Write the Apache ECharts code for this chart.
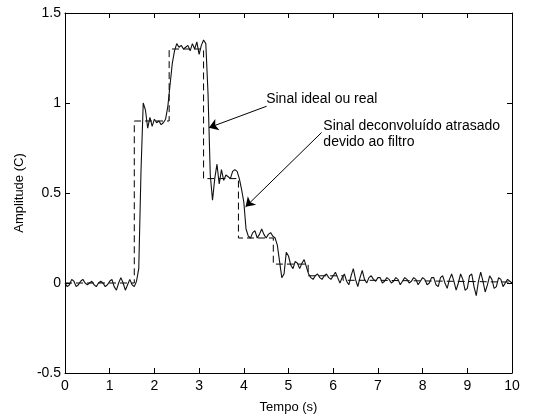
<!DOCTYPE html>
<html>
<head>
<meta charset="utf-8">
<script src="https://cdn.jsdelivr.net/npm/echarts@6/dist/echarts.min.js"></script>
<style>
  html, body { margin: 0; padding: 0; background: #fff; }
  #chart { width: 538px; height: 419px; }
</style>
</head>
<body>
<div id="chart"></div>
<script>
// deconvolved (filtered) signal, one sample every 0.05 s from 0 to 10 s
const sampleStep = 0.05;
const deconvolved = [
  0.00, -0.02, -0.01, 0.02, 0.01, -0.02, -0.01, 0.01, 0.02, 0.00, -0.01, 0.00, 0.01, -0.01, -0.02, 0.00, 0.01, 0.00, -0.02, -0.01,
  0.01, 0.02, -0.02, -0.04, 0.00, 0.03, 0.00, -0.04, -0.01, 0.02, -0.01, -0.02, 0.01, 0.08, 0.62, 1.00, 0.96, 0.86, 0.92, 0.87,
  0.91, 0.89, 0.90, 0.88, 0.89, 0.91, 0.98, 1.10, 1.22, 1.29, 1.33, 1.31, 1.32, 1.30, 1.31, 1.32, 1.29, 1.33, 1.30, 1.34,
  1.27, 1.32, 1.35, 1.33, 1.05, 0.60, 0.46, 0.58, 0.66, 0.55, 0.63, 0.57, 0.60, 0.59, 0.58, 0.62, 0.63, 0.62, 0.58, 0.52,
  0.45, 0.30, 0.26, 0.25, 0.28, 0.29, 0.25, 0.27, 0.30, 0.27, 0.25, 0.27, 0.28, 0.26, 0.25, 0.21, 0.12, 0.03, 0.05, 0.17,
  0.15, 0.10, 0.08, 0.12, 0.11, 0.08, 0.11, 0.13, 0.09, 0.05, 0.03, 0.02, 0.04, 0.05, 0.03, 0.02, 0.04, 0.05, 0.03, 0.02,
  0.04, 0.06, 0.03, 0.00, 0.03, 0.05, 0.01, -0.01, 0.04, 0.08, 0.02, -0.02, 0.03, 0.07, 0.02, 0.00, 0.03, 0.04, 0.02, 0.01,
  0.03, 0.03, 0.00, 0.01, 0.03, 0.02, 0.00, 0.01, 0.03, 0.02, -0.01, 0.01, 0.03, 0.02, 0.00, 0.01, 0.03, 0.02, -0.01, 0.01,
  0.03, 0.02, -0.01, 0.00, 0.03, 0.03, -0.01, -0.02, 0.03, 0.04, 0.00, -0.03, 0.02, 0.05, 0.01, -0.04, 0.00, 0.05, 0.02, -0.04,
  -0.03, 0.04, 0.05, -0.02, -0.07, 0.01, 0.06, 0.01, -0.05, -0.01, 0.04, 0.02, -0.03, -0.02, 0.03, 0.02, -0.02, 0.00, 0.02, 0.01,
  0.00
];

// ideal (real) signal: level held from each start time to the next one
const idealStarts = [0, 1.55, 2.33, 3.10, 3.88, 4.66, 5.44, 6.22, 7.00, 10];
const idealLevels = [0, 0.90, 1.30, 0.58, 0.25, 0.105, 0.04, 0.015, 0.005, 0.005];

const xTicks = [0, 1, 2, 3, 4, 5, 6, 7, 8, 9, 10];
const yTicks = [-0.5, 0, 0.5, 1, 1.5];

// annotations, in data coordinates: text start, arrow tail, arrow head
const noteIdeal = { text: 'Sinal ideal ou real', at: [4.50, 1.019], from: [4.51, 0.982], to: [3.22, 0.863] };
const noteFiltered = { text: 'Sinal deconvoluído atrasado\ndevido ao filtro', at: [5.78, 0.825], from: [5.74, 0.836], to: [4.04, 0.423] };

const font = "'Liberation Sans', Arial, sans-serif";

const filteredData = deconvolved.map((v, i) => [+(i * sampleStep).toFixed(2), v]);
const idealData = idealStarts.map((t, i) => [t, idealLevels[i]]);

function boxAxis(pos, min, max, ticks, showLabels) {
  return {
    type: 'value',
    position: pos,
    min: min,
    max: max,
    axisLine: { show: true, onZero: false, lineStyle: { color: '#000', width: 1 } },
    axisTick: { show: true, inside: true, length: 5, customValues: ticks, lineStyle: { color: '#000' } },
    axisLabel: {
      show: showLabels,
      customValues: ticks,
      color: '#000',
      fontFamily: font,
      fontSize: 14,
      margin: pos === 'bottom' ? 6 : 4,
      showMinLabel: true,
      showMaxLabel: true
    },
    splitLine: { show: false }
  };
}

const chart = echarts.init(document.getElementById('chart'));

const xBottom = boxAxis('bottom', 0, 10, xTicks, true);
xBottom.name = 'Tempo (s)';
xBottom.nameLocation = 'middle';
xBottom.nameGap = 28;
xBottom.nameTextStyle = { color: '#000', fontFamily: font, fontSize: 13 };

const yLeft = boxAxis('left', -0.5, 1.5, yTicks, true);
yLeft.name = 'Amplitude (C)';
yLeft.nameLocation = 'middle';
yLeft.nameGap = 33;
yLeft.nameTextStyle = { color: '#000', fontFamily: font, fontSize: 13 };

function arrowLine(note) {
  return [{ coord: note.from }, { coord: note.to }];
}

function notePoint(note) {
  return {
    coord: note.at,
    label: {
      show: true,
      position: 'right',
      distance: 0,
      formatter: note.text,
      color: '#000',
      fontFamily: font,
      fontSize: 14,
      lineHeight: 16,
      align: 'left'
    }
  };
}

chart.setOption({
  animation: false,
  backgroundColor: '#fff',
  grid: { left: 65, right: 26, top: 13, bottom: 43 },
  xAxis: [xBottom, boxAxis('top', 0, 10, xTicks, false)],
  yAxis: [yLeft, boxAxis('right', -0.5, 1.5, yTicks, false)],
  series: [
    {
      type: 'line',
      name: 'ideal',
      data: idealData,
      step: 'end',
      showSymbol: false,
      symbol: 'none',
      lineStyle: { color: '#000', width: 1, type: [7, 4] },
      z: 2
    },
    {
      type: 'line',
      name: 'deconvolved',
      data: filteredData,
      showSymbol: false,
      symbol: 'none',
      lineStyle: { color: '#111', width: 1.1 },
      z: 3,
      markLine: {
        silent: true,
        symbol: ['none', 'arrow'],
        symbolSize: 9,
        label: { show: false },
        lineStyle: { color: '#000', width: 1, type: 'solid' },
        emphasis: { disabled: true },
        data: [arrowLine(noteIdeal), arrowLine(noteFiltered)]
      },
      markPoint: {
        silent: true,
        symbol: 'circle',
        symbolSize: 0,
        data: [notePoint(noteIdeal), notePoint(noteFiltered)]
      }
    }
  ]
});
</script>
</body>
</html>
